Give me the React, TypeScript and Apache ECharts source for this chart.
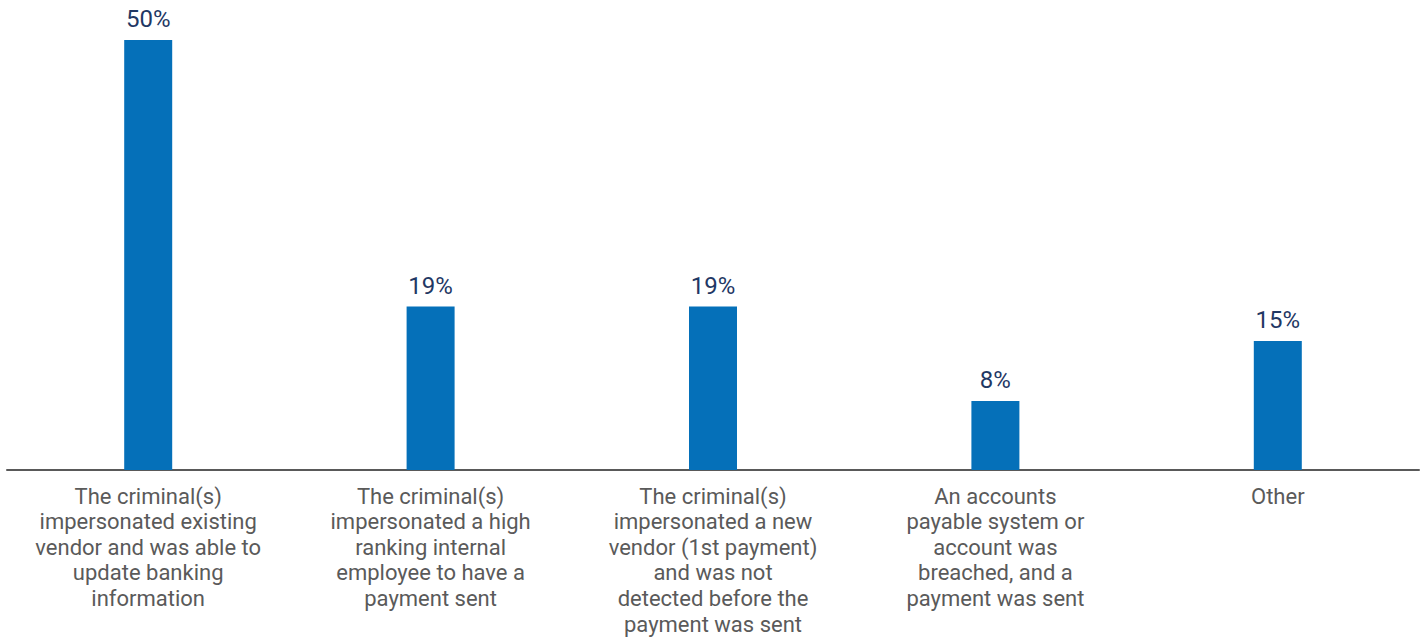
import React, { useEffect, useRef } from "react";
import * as echarts from "echarts";

const categories = [
  "The criminal(s)\nimpersonated existing\nvendor and was able to\nupdate banking\ninformation",
  "The criminal(s)\nimpersonated a high\nranking internal\nemployee to have a\npayment sent",
  "The criminal(s)\nimpersonated a new\nvendor (1st payment)\nand was not\ndetected before the\npayment was sent",
  "An accounts\npayable system or\naccount was\nbreached, and a\npayment was sent",
  "Other",
];
const values = [50, 19, 19, 8, 15];

export default function App() {
  const ref = useRef<HTMLDivElement>(null);
  useEffect(() => {
    const chart = echarts.init(ref.current!, null, { renderer: "svg" });
    chart.setOption({
      animation: false,
      grid: { left: 7, right: 7, top: 40, bottom: 166, containLabel: false },
      xAxis: {
        type: "category",
        data: categories,
        axisLine: { lineStyle: { color: "#595959", width: 2 } },
        axisTick: { show: false },
        axisLabel: {
          interval: 0,
          margin: 13.5,
          color: "#5a5a5a",
          fontFamily: "Roboto",
          fontSize: 22,
          lineHeight: 25.6,
          align: "center",
        },
      },
      yAxis: {
        type: "value",
        min: 0,
        max: 50,
        show: false,
        splitLine: { show: false },
      },
      series: [
        {
          type: "bar",
          data: values,
          barWidth: 48,
          itemStyle: { color: "#0570b9" },
          label: {
            show: true,
            position: "top",
            distance: 9,
            formatter: "{c}%",
            color: "#1f3864",
            fontFamily: "Roboto",
            fontSize: 24,
          },
        },
      ],
    });
    return () => chart.dispose();
  }, []);
  return <div ref={ref} style={{ width: 1426, height: 637, position: "absolute", left: 0, top: 0 }} />;
}
